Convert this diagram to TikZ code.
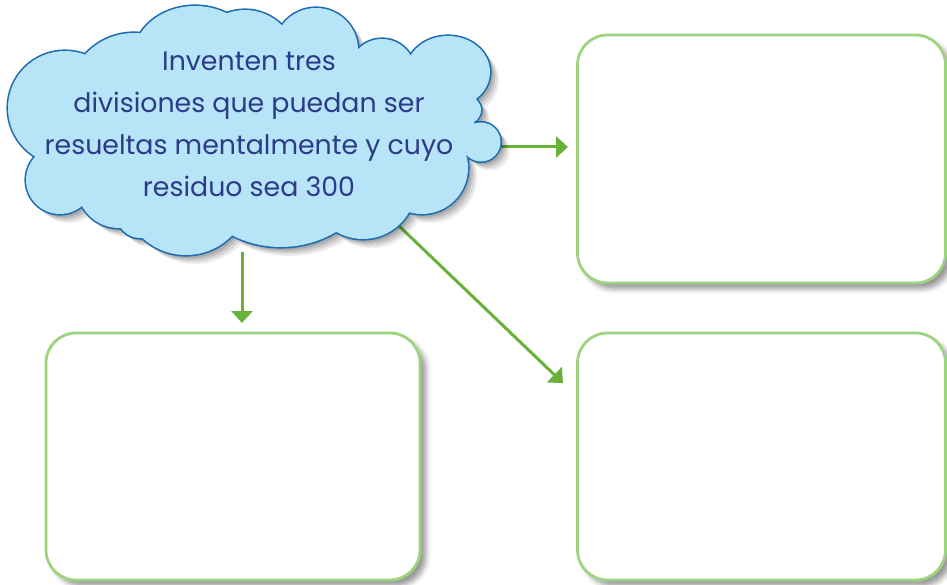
\documentclass[tikz,border=0pt]{standalone}
\usepackage{fontspec}
\setmainfont{Poppins}
\usetikzlibrary{arrows.meta,shadows.blur}
\definecolor{cloudfill}{RGB}{183,228,247}
\definecolor{cloudline}{RGB}{28,108,180}
\definecolor{txtblue}{RGB}{44,58,138}
\definecolor{arrowgreen}{RGB}{104,178,58}
\definecolor{boxgreen}{RGB}{158,211,127}
\def\cloudLobes{%
  (134,99) circle[radius=66]
  (65,108) circle[radius=57]
  (60,180) circle[radius=34]
  (119,186) circle[radius=42]
  (140,215) circle[radius=23]
  (186,191) circle[radius=64]
  (281,139) circle[radius=108]
  (363,186) circle[radius=53]
  (422,168) circle[radius=46]
  (481,142) circle[radius=19.5]
  (467,110) circle[radius=14]
  (448,72) ellipse[x radius=42,y radius=36]
  (382,72) circle[radius=33]
  (316,50) circle[radius=42]
  (245,62) circle[radius=52]
  (195,58) ellipse[x radius=62,y radius=52]
  (255,135) ellipse[x radius=190,y radius=85]
  (440,130) circle[radius=35]
}
\begin{document}
\begin{tikzpicture}[x=1pt,y=-1pt,
  card/.style={draw=boxgreen, line width=2.8pt, rounded corners=30pt, fill=white,
    inner sep=0pt,
    blur shadow={shadow xshift=6pt, shadow yshift=-6pt, shadow blur radius=5pt, shadow opacity=40}},
  link/.style={draw=arrowgreen, line width=3pt, -{Triangle[width=21pt,length=12pt]}},
  qtext/.style={align=center, inner sep=0pt, text=txtblue, font=\fontsize{26.8}{42}\selectfont}
]
\useasboundingbox (0,0) rectangle (947,585);

% boxes
\node[card, minimum width=368pt, minimum height=248pt] (boxTR) at (761.5,159) {};
\node[card, minimum width=374pt, minimum height=247pt] (boxBL) at (233,456.5) {};
\node[card, minimum width=368pt, minimum height=247pt] (boxBR) at (761.5,456.5) {};

% connector end points
\coordinate (cR) at (490,147);
\coordinate (cB) at (242,252);
\coordinate (cD) at (398,225);
\coordinate (tR) at (568,147);
\coordinate (tB) at (242,323);
\coordinate (tD) at (563,383);

\draw[link] (cR) -- (tR);
\draw[link] (cB) -- (tB);
\draw[link] (cD) -- (tD);

% cloud shadow
\foreach \s/\o in {9/0.07, 7/0.09, 5/0.11, 3/0.12}{
  \begin{scope}[transparency group, opacity=\o, shift={(\s,\s)}]
    \fill[black] \cloudLobes;
  \end{scope}
}
% cloud
\draw[cloudline, line width=3.2pt] \cloudLobes;
\fill[cloudfill] \cloudLobes;

\node[qtext, anchor=north] (q) at (249,52) {Inventen tres\\divisiones que puedan ser\\resueltas mentalmente y cuyo\\residuo sea 300};
\end{tikzpicture}
\end{document}
